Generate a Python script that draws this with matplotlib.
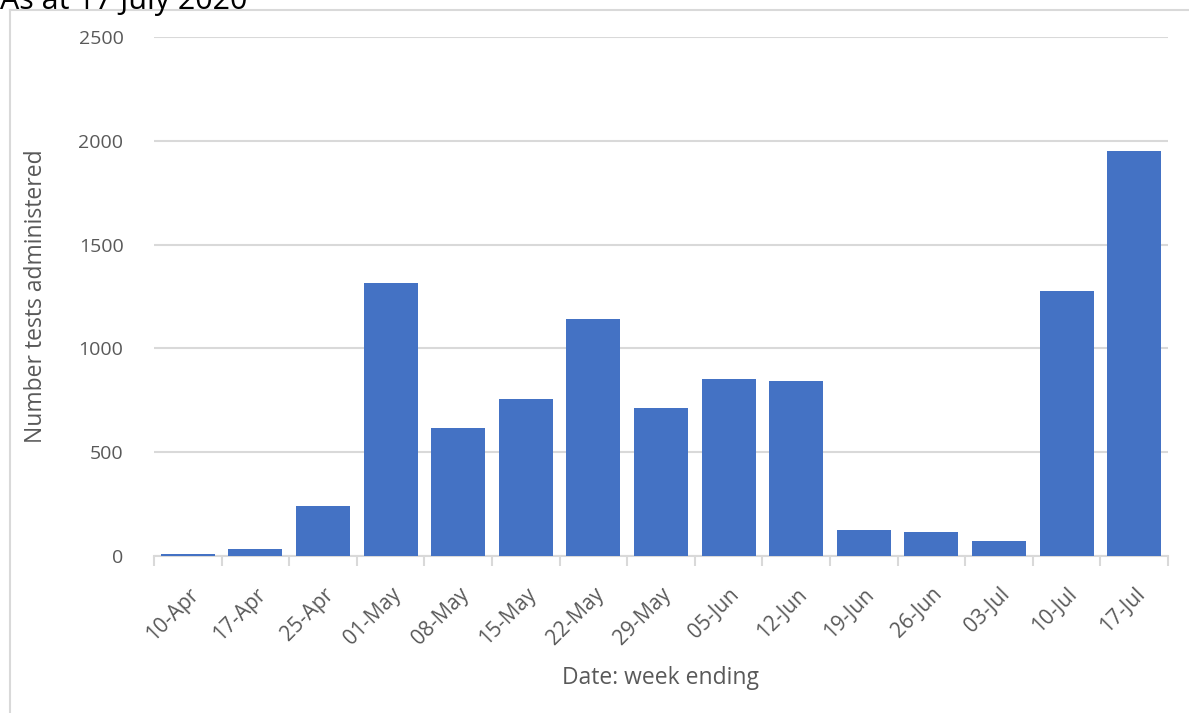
import matplotlib.pyplot as plt
from matplotlib.lines import Line2D

weeks = ['10-Apr', '17-Apr', '25-Apr', '01-May', '08-May', '15-May', '22-May', '29-May',
         '05-Jun', '12-Jun', '19-Jun', '26-Jun', '03-Jul', '10-Jul', '17-Jul']
tests = [12, 35, 240, 1315, 615, 757, 1140, 715, 855, 845, 125, 115, 72, 1275, 1950]
y_ticks = [0, 500, 1000, 1500, 2000, 2500]

plt.rcParams['font.family'] = ['Open Sans', 'DejaVu Sans']
grey = '#595959'

fig = plt.figure(figsize=(11.89, 7.13), dpi=100)
ax = fig.add_axes([154 / 1189, 1 - 556 / 713, (1168 - 154) / 1189, (556 - 37) / 713])

x = list(range(len(weeks)))
ax.bar(x, tests, width=0.8, color='#4472C4', zorder=3)

ax.set_xlim(-0.5, len(weeks) - 0.5)
ax.set_ylim(0, 2500)
ax.set_yticks(y_ticks)
ax.set_yticklabels([str(v) for v in y_ticks], fontsize=14, color=grey)
ax.yaxis.grid(True, color='#D9D9D9', linewidth=1.5, zorder=0)
ax.tick_params(axis='y', length=0, pad=22)

# category labels centred, ticks between categories
ax.set_xticks(x)
ax.set_xticklabels(weeks, rotation=45, ha='right', rotation_mode='anchor',
                   fontsize=15, color=grey)
ax.tick_params(axis='x', which='major', length=0, pad=20)
ax.set_xticks([i - 0.5 for i in range(len(weeks) + 1)], minor=True)
ax.tick_params(axis='x', which='minor', length=7, width=1.5, color='#D9D9D9')

for s in ['top', 'right', 'left']:
    ax.spines[s].set_visible(False)
ax.spines['bottom'].set_color('#D9D9D9')
ax.spines['bottom'].set_linewidth(1.5)

ax.set_ylabel('Number tests administered', fontsize=16.5, color=grey, labelpad=22)
ax.set_xlabel('Date: week ending', fontsize=16.5, color=grey, labelpad=12)

# chart frame
fig.add_artist(Line2D([10 / 1189, 10 / 1189], [0, 1 - 10 / 713], color='#D9D9D9', linewidth=1.5))
fig.add_artist(Line2D([10 / 1189, 1], [1 - 10 / 713, 1 - 10 / 713], color='#D9D9D9', linewidth=1.5))

fig.text(0.0, 1 - 9 / 713, 'As at 17 July 2020', fontsize=22, color='black', va='baseline', ha='left')

fig.savefig('out.png', dpi=100)
